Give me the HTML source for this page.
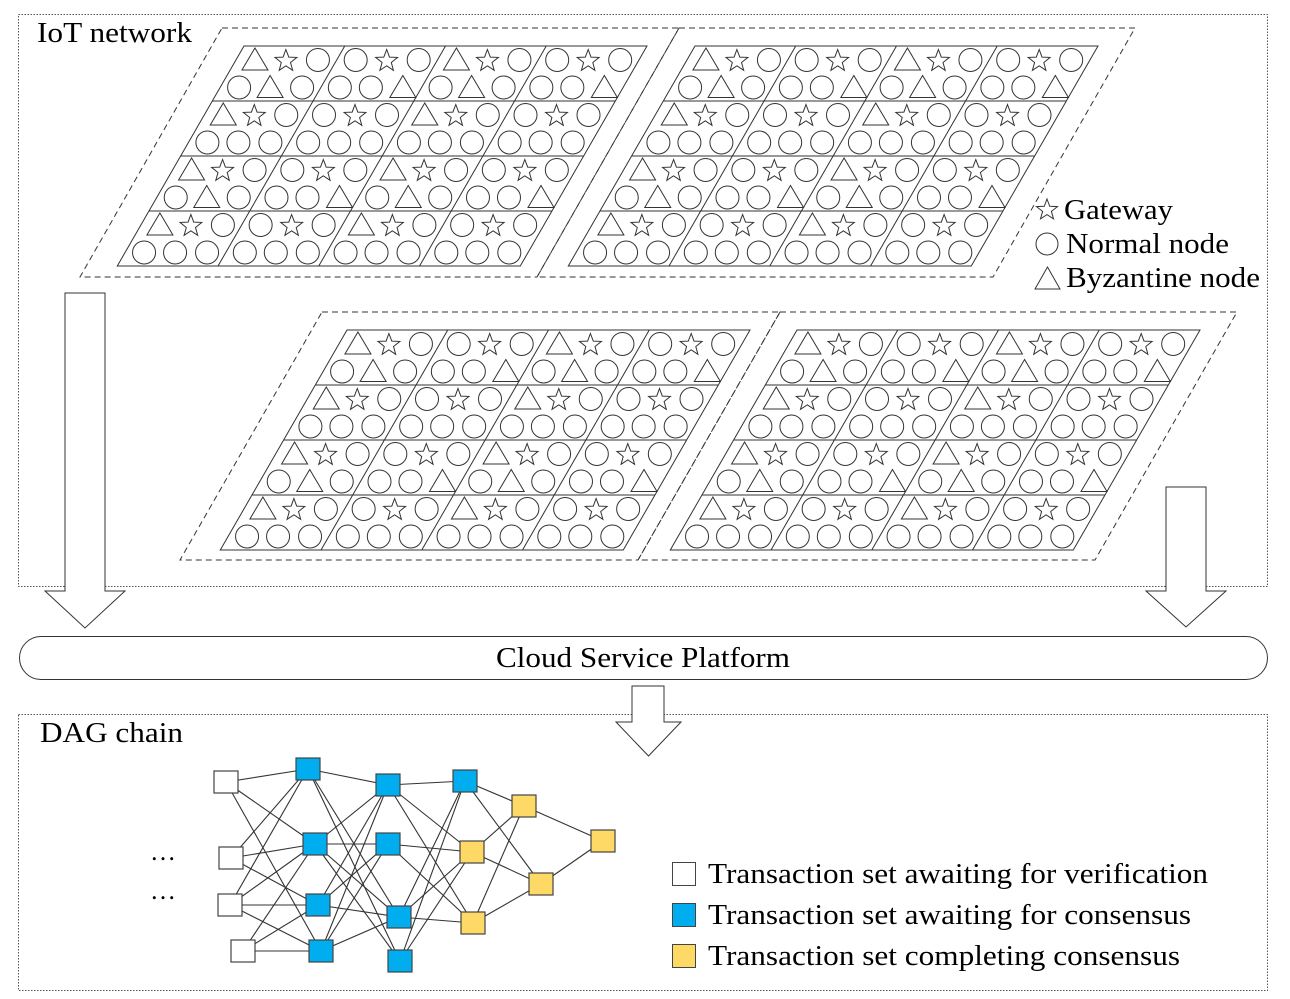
<!DOCTYPE html>
<html><head><meta charset="utf-8">
<style>
html,body{margin:0;padding:0;background:#fff;}
svg{display:block;}
text{font-family:"Liberation Serif",serif;fill:#000;}
</style></head>
<body>
<svg id="s" width="1290" height="999" viewBox="0 0 1290 999" xmlns="http://www.w3.org/2000/svg">
<rect x="0" y="0" width="1290" height="999" fill="#fff"/>
<rect x="18.5" y="14.5" width="1249" height="572" fill="none" stroke="#555" stroke-width="1" stroke-dasharray="1.5,1.5"/>
<rect x="18.5" y="714.5" width="1249" height="276" fill="none" stroke="#555" stroke-width="1" stroke-dasharray="1.5,1.5"/>
<text x="37" y="42" font-size="28" textLength="155" lengthAdjust="spacingAndGlyphs">IoT network</text>
<text x="40" y="742" font-size="28" textLength="143" lengthAdjust="spacingAndGlyphs">DAG chain</text>
<g fill="none" stroke="#333" stroke-width="1" stroke-dasharray="6,4">
<polygon points="222,28 679,28 537,277 80,277"/>
<polygon points="679,28 1135,28 993,277 537,277"/>
<polygon points="322,312 780,312 638,560 180,560"/>
<polygon points="780,312 1237,312 1095,560 638,560"/>
</g>
<g id="blocks" fill="none" stroke="#333" stroke-width="1"></g>
<g fill="none" stroke="#333" stroke-width="1">
<polygon id="lstar" points=""/>
<circle cx="1047" cy="244" r="11"/>
<polygon points="1035,289 1060,289 1047.5,267"/>
</g>
<text x="1064" y="219" font-size="29" textLength="109" lengthAdjust="spacingAndGlyphs">Gateway</text>
<text x="1066" y="253" font-size="29" textLength="163" lengthAdjust="spacingAndGlyphs">Normal node</text>
<text x="1066" y="287" font-size="29" textLength="194" lengthAdjust="spacingAndGlyphs">Byzantine node</text>
<g fill="#fff" stroke="#333" stroke-width="1">
<polygon points="65,293 105,293 105,591 125,591 85,628 45,591 65,591"/>
<polygon points="1166,487 1206,487 1206,591 1226,591 1186,627 1146,591 1166,591"/>
<polygon points="632,686 664,686 664,722 681,722 648.5,756 616,722 632,722"/>
</g>
<rect x="19.5" y="636.5" width="1248" height="43" rx="21.5" ry="21.5" fill="#fff" stroke="#333" stroke-width="1"/>
<text x="496" y="667" font-size="29" textLength="294" lengthAdjust="spacingAndGlyphs">Cloud Service Platform</text>
<g id="edges" stroke="#333" stroke-width="1.1"></g>
<g id="nodes" stroke="#444" stroke-width="1.2"></g>
<text x="150" y="860" font-size="26">…</text>
<text x="150" y="899" font-size="26">…</text>
<rect x="672.5" y="862.5" width="23" height="23" fill="#fff" stroke="#444"/>
<rect x="672.5" y="903.5" width="23" height="23" fill="#00AEEF" stroke="#444"/>
<rect x="672.5" y="944.5" width="23" height="23" fill="#FFD966" stroke="#444"/>
<text x="708" y="883" font-size="29" textLength="500" lengthAdjust="spacingAndGlyphs">Transaction set awaiting for verification</text>
<text x="708" y="924" font-size="29" textLength="483" lengthAdjust="spacingAndGlyphs">Transaction set awaiting for consensus</text>
<text x="708" y="965" font-size="29" textLength="472" lengthAdjust="spacingAndGlyphs">Transaction set completing consensus</text>
</svg>
<script>
var NS="http://www.w3.org/2000/svg";
function el(p,t,a){var e=document.createElementNS(NS,t);for(var k in a)e.setAttribute(k,a[k]);p.appendChild(e);return e;}
function starPts(cx,cy,R){var r=R*0.42,p=[];for(var i=0;i<10;i++){var a=-Math.PI/2+i*Math.PI/5,rr=i%2?r:R;p.push((cx+rr*Math.cos(a)).toFixed(1)+","+(cy+rr*Math.sin(a)).toFixed(1));}return p.join(" ");}
document.getElementById("lstar").setAttribute("points",starPts(1047,210,11));
var g=document.getElementById("blocks");
var sh=0.576,W=403,H=220;
function sym(type,x,y){
 if(type=="o")el(g,"circle",{cx:x,cy:y,r:11.5});
 else if(type=="s")el(g,"polygon",{points:starPts(x,y+1,11.5)});
 else el(g,"polygon",{points:(x-13)+","+(y+10)+" "+(x+13)+","+(y+10)+" "+x+","+(y-12)});
}
var pats={A:[["t","s","o"],[["o","t","o"],["o","o","o"],["o","t","o"],["o","o","o"]]],
          B:[["o","s","o"],[["o","o","t"],["o","o","o"],["o","o","t"],["o","o","o"]]]};
function block(L,T){
 el(g,"polygon",{points:L+","+T+" "+(L+W)+","+T+" "+(L+W-sh*H)+","+(T+H)+" "+(L-sh*H)+","+(T+H)});
 for(var r=1;r<4;r++){var y=T+r*55;el(g,"line",{x1:L-sh*r*55,y1:y,x2:L+W-sh*r*55,y2:y});}
 for(var c=1;c<4;c++){var x=L+c*W/4;el(g,"line",{x1:x,y1:T,x2:x-sh*H,y2:T+H});}
 for(var r=0;r<4;r++)for(var c=0;c<4;c++){
  var p=pats[c%2==0?"A":"B"];
  for(var s=0;s<2;s++){
   var y=T+r*55+s*27.5+14;
   var edge=L+c*W/4-sh*(y-T);
   var row=s==0?p[0]:p[1][r];
   var offs=[19,50,82];
   for(var k=0;k<3;k++)sym(row[k],edge+offs[k],y);
  }
 }
}
block(244,46);block(695,46);block(347,330);block(797,330);
var N={W1:[226,782,"#fff"],W2:[231,858,"#fff"],W3:[230,905,"#fff"],W4:[243,951,"#fff"],
B1:[308,769,"#00AEEF"],B2:[315,844,"#00AEEF"],B3:[318,905,"#00AEEF"],B4:[321,951,"#00AEEF"],
B5:[388,785,"#00AEEF"],B6:[388,844,"#00AEEF"],B7:[399,917,"#00AEEF"],B8:[400,961,"#00AEEF"],
B9:[465,781,"#00AEEF"],Y1:[472,852,"#FFD966"],Y2:[473,923,"#FFD966"],Y3:[524,806,"#FFD966"],Y4:[541,884,"#FFD966"],Y5:[603,841,"#FFD966"]};
var E=[["W1","B1"],["W1","B2"],["W1","B4"],["W2","B1"],["W2","B2"],["W2","B3"],["W3","B1"],["W3","B2"],["W3","B3"],["W3","B4"],["W4","B2"],["W4","B3"],["W4","B4"],
["B1","B5"],["B1","B7"],["B1","B8"],["B2","B5"],["B2","B6"],["B2","B7"],["B2","B8"],["B3","B5"],["B3","B6"],["B3","B7"],["B4","B5"],["B4","B6"],["B4","B7"],
["B5","B9"],["B5","Y1"],["B5","Y2"],["B6","Y1"],["B6","Y2"],["B7","B9"],["B7","Y1"],["B7","Y2"],["B8","B9"],["B8","Y1"],
["B9","Y3"],["B9","Y4"],["Y1","Y3"],["Y1","Y4"],["Y2","Y3"],["Y2","Y4"],["Y3","Y5"],["Y4","Y5"]];
var eg=document.getElementById("edges"),ng=document.getElementById("nodes");
E.forEach(function(e){var a=N[e[0]],b=N[e[1]];el(eg,"line",{x1:a[0],y1:a[1],x2:b[0],y2:b[1]});});
for(var k in N){var n=N[k];el(ng,"rect",{x:n[0]-12,y:n[1]-11,width:24,height:22,fill:n[2]});}
</script>
</body></html>
